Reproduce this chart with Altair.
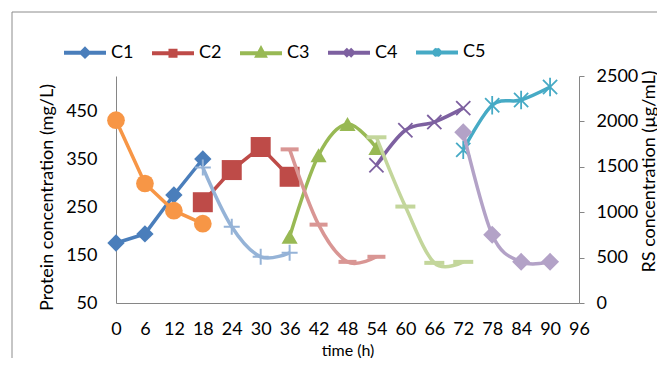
import altair as alt
import pandas as pd

# ---------------- data ----------------
series_names = ["C1", "C2", "C3", "C4", "C5"]

times_c1 = [0, 6, 12, 18]
times_c2 = [18, 24, 30, 36]
times_c3 = [36, 42, 48, 54]
times_c4 = [54, 60, 66, 72]
times_c5 = [72, 78, 84, 90]

protein_c1 = [175, 194, 275, 350]
protein_c2 = [260, 327, 375, 313]
protein_c3 = [188, 358, 423, 373]
protein_c4 = [337, 410, 427, 456]
protein_c5 = [369, 462, 473, 500]

rs_c1 = [2013, 1316, 1017, 874]
rs_c2 = [1493, 840, 509, 553]
rs_c3 = [1692, 863, 453, 509]
rs_c4 = [1825, 1062, 442, 453]
rs_c5 = [1880, 752, 453, 453]

x_ticks = [0, 6, 12, 18, 24, 30, 36, 42, 48, 54, 60, 66, 72, 78, 84, 90, 96]
left_ticks = [50, 150, 250, 350, 450]
right_ticks = [0, 500, 1000, 1500, 2000, 2500]

# ---------------- styling ----------------
FONT = "Lato"
AXIS_GRAY = "#868686"
main_colors = ["#4A7EBB", "#BE4B48", "#98B954", "#7D60A0", "#46AAC5"]
rs_colors = ["#F79646", "#95B3D7", "#D99694", "#C3D69B", "#B3A2C7"]

X_PATH = "M-1,-1L1,1M-1,1L1,-1"
STAR_PATH = "M-1,-1L1,1M-1,1L1,-1M0,-1.3L0,1.3"
PLUS_PATH = "M-1,0L1,0M0,-1L0,1"
DASH_PATH = "M-1,0L1,0"

legend_paths = [
    "M-1,0L1,0M0,-0.17L0.17,0L0,0.17L-0.17,0Z",
    "M-1,0L1,0M-0.12,-0.12L0.12,-0.12L0.12,0.12L-0.12,0.12Z",
    "M-1,0L1,0M0,-0.19L0.17,0.12L-0.17,0.12Z",
    "M-1,0L1,0M-0.17,-0.17L0.17,0.17M-0.17,0.17L0.17,-0.17",
    "M-1,0L1,0M-0.15,-0.15L0.15,0.15M-0.15,0.15L0.15,-0.15M0,-0.2L0,0.2",
]

x_enc = alt.X(
    "t:Q",
    scale=alt.Scale(domain=[0, 96], nice=False, zero=False),
    axis=alt.Axis(
        values=x_ticks, title="time (h)", ticks=False, labelPadding=17,
        labelFlush=False, labelOverlap=False, titleFontSize=16, format="d",
        titleY=47, titleBaseline="middle",
    ),
)

left_axis = alt.Axis(
    values=left_ticks, title="Protein concentration (mg/L)", ticks=False,
    labelPadding=19, labelFlush=False, labelOverlap=False, format="d",
    titleAngle=270, titleX=-69, titleY=121, titleAlign="center",
    titleBaseline="middle",
)
right_axis = alt.Axis(
    values=right_ticks, title="RS concentration (µg/mL)", orient="right",
    ticks=True, tickSize=5, tickColor=AXIS_GRAY, labelPadding=12,
    labelFlush=False, labelOverlap=False, format="d",
    titleAngle=270, titleX=70, titleY=95, titleAlign="center",
    titleBaseline="middle",
)

y_left = alt.Y("v:Q", scale=alt.Scale(domain=[50, 523], nice=False, zero=False), axis=left_axis)
y_right = alt.Y("v:Q", scale=alt.Scale(domain=[0, 2500], nice=False, zero=False), axis=right_axis)


def series_layers(times, values, color, y_enc, interp, point_kwargs):
    df = pd.DataFrame({"t": times, "v": values})
    base = alt.Chart(df)
    line = base.mark_line(color=color, strokeWidth=3.5, interpolate=interp).encode(x=x_enc, y=y_enc)
    pts = base.mark_point(color=color, opacity=1, **point_kwargs).encode(x=x_enc, y=y_enc)
    return [line, pts]


left_layers = []
# chart frame (decorative)
frame_df = pd.DataFrame({"k": [0]})
left_layers.append(
    alt.Chart(frame_df).mark_rule(color="#8C8C8C", strokeWidth=1).encode(
        x=alt.value(-104), x2=alt.value(700), y=alt.value(-64))
)
left_layers.append(
    alt.Chart(frame_df).mark_rule(color="#8C8C8C", strokeWidth=1).encode(
        x=alt.value(-104), y=alt.value(-64), y2=alt.value(600))
)

left_layers += series_layers(times_c1, protein_c1, main_colors[0], y_left, "linear",
                             dict(shape="diamond", filled=True, size=300))
left_layers += series_layers(times_c2, protein_c2, main_colors[1], y_left, "linear",
                             dict(shape="square", filled=True, size=400))
left_layers += series_layers(times_c3, protein_c3, main_colors[2], y_left, "cardinal",
                             dict(shape="triangle-up", filled=True, size=260))
left_layers += series_layers(times_c4, protein_c4, main_colors[3], y_left, "cardinal",
                             dict(shape=X_PATH, filled=False, size=200, strokeWidth=1.8))
left_layers += series_layers(times_c5, protein_c5, main_colors[4], y_left, "cardinal",
                             dict(shape=STAR_PATH, filled=False, size=200, strokeWidth=1.8))

# legend-only layer (no marks drawn)
legend_df = pd.DataFrame({"series": series_names})
leg = alt.Legend(
    orient="none", legendX=-54, legendY=-47, direction="horizontal", title=None,
    symbolSize=1764, symbolStrokeWidth=4, labelFont=FONT, labelFontSize=18,
    labelColor="black", labelOffset=3, columnPadding=10, padding=0,
)
left_layers.append(
    alt.Chart(legend_df).transform_filter("false").mark_point(filled=True, opacity=1).encode(
        fill=alt.Fill("series:N", scale=alt.Scale(domain=series_names, range=main_colors), legend=leg),
        stroke=alt.Stroke("series:N", scale=alt.Scale(domain=series_names, range=main_colors), legend=leg),
        shape=alt.Shape("series:N", scale=alt.Scale(domain=series_names, range=legend_paths), legend=leg),
    )
)

right_layers = []
right_layers += series_layers(times_c1, rs_c1, rs_colors[0], y_right, "linear",
                              dict(shape="circle", filled=True, size=314))
right_layers += series_layers(times_c2, rs_c2, rs_colors[1], y_right, "cardinal",
                              dict(shape=PLUS_PATH, filled=False, size=256, strokeWidth=2))
right_layers += series_layers(times_c3, rs_c3, rs_colors[2], y_right, "cardinal",
                              dict(shape=DASH_PATH, filled=False, size=324, strokeWidth=4))
right_layers += series_layers(times_c4, rs_c4, rs_colors[3], y_right, "cardinal",
                              dict(shape=DASH_PATH, filled=False, size=400, strokeWidth=4))
right_layers += series_layers(times_c5, rs_c5, rs_colors[4], y_right, "cardinal",
                              dict(shape="diamond", filled=True, size=324))

left_group = alt.layer(*left_layers)
right_group = alt.layer(*right_layers)

chart = (
    alt.layer(left_group, right_group)
    .resolve_scale(y="independent")
    .properties(
        width=463, height=227,
        padding={"left": 108, "top": 68, "right": 78, "bottom": 55},
        autosize=alt.AutoSizeParams(type="none"),
        background="white",
    )
    .configure_view(stroke=None)
    .configure_axis(
        grid=False, domainColor=AXIS_GRAY, domainWidth=1,
        labelFont=FONT, labelFontSize=18, labelColor="black",
        titleFont=FONT, titleFontSize=18, titleColor="black", titleFontWeight="normal",
    )
)

chart.save("out.html", embed_options={"renderer": "svg", "actions": False})
